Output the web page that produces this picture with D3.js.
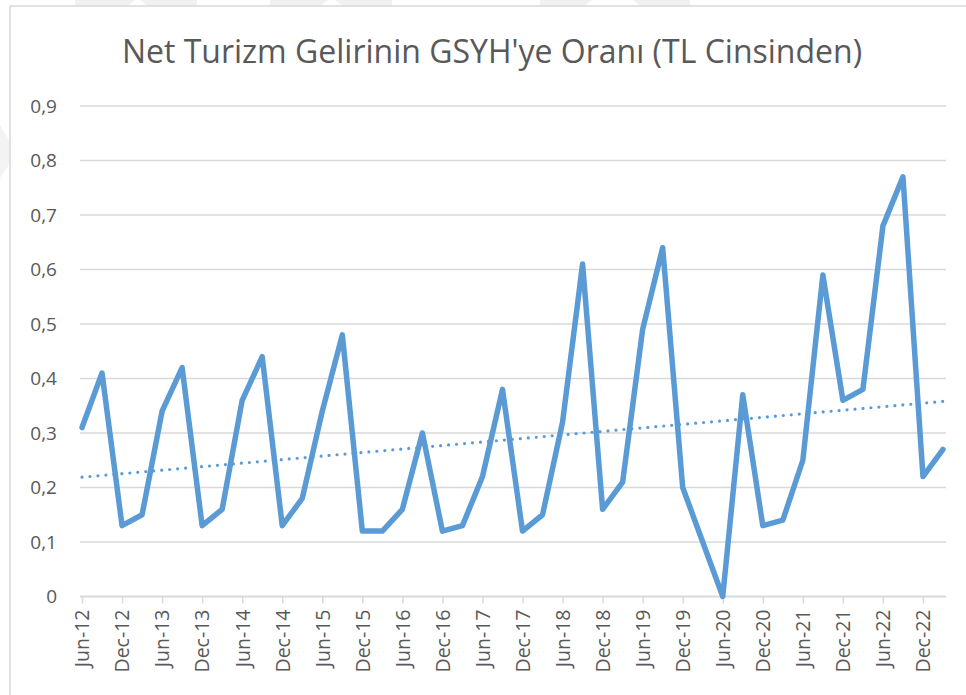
<!DOCTYPE html>
<html>
<head>
<meta charset="utf-8">
<script src="https://cdn.jsdelivr.net/npm/d3@7"></script>
<style>
  body { margin: 0; background: #fff; }
  text { font-family: "Open Sans", sans-serif; fill: #595959; }
</style>
</head>
<body>
<div id="chart"></div>
<script>
// chart data: quarterly ratio, Jun-12 .. Mar-23
var quarters = ["Jun-12", "Sep-12", "Dec-12", "Mar-13", "Jun-13", "Sep-13", "Dec-13", "Mar-14",
    "Jun-14", "Sep-14", "Dec-14", "Mar-15", "Jun-15", "Sep-15", "Dec-15", "Mar-16",
    "Jun-16", "Sep-16", "Dec-16", "Mar-17", "Jun-17", "Sep-17", "Dec-17", "Mar-18",
    "Jun-18", "Sep-18", "Dec-18", "Mar-19", "Jun-19", "Sep-19", "Dec-19", "Mar-20",
    "Jun-20", "Sep-20", "Dec-20", "Mar-21", "Jun-21", "Sep-21", "Dec-21", "Mar-22",
    "Jun-22", "Sep-22", "Dec-22", "Mar-23"];
var ratio = [0.31, 0.41, 0.13, 0.15, 0.34, 0.42, 0.13, 0.16,
    0.36, 0.44, 0.13, 0.18, 0.34, 0.48, 0.12, 0.12,
    0.16, 0.30, 0.12, 0.13, 0.22, 0.38, 0.12, 0.15,
    0.32, 0.61, 0.16, 0.21, 0.49, 0.64, 0.20, 0.10,
    0.00, 0.37, 0.13, 0.14, 0.25, 0.59, 0.36, 0.38,
    0.68, 0.77, 0.22, 0.27];
var xTickLabels = ["Jun-12", "Dec-12", "Jun-13", "Dec-13", "Jun-14", "Dec-14", "Jun-15", "Dec-15",
    "Jun-16", "Dec-16", "Jun-17", "Dec-17", "Jun-18", "Dec-18", "Jun-19", "Dec-19",
    "Jun-20", "Dec-20", "Jun-21", "Dec-21", "Jun-22", "Dec-22"];
var yTicks = [0, 0.1, 0.2, 0.3, 0.4, 0.5, 0.6, 0.7, 0.8, 0.9];
var title = "Net Turizm Gelirinin GSYH'ye Oranı (TL Cinsinden)";

var svgWidth = 966;
var svgHeight = 695;

var svg = d3.select("#chart").append("svg")
    .attr("width", svgWidth)
    .attr("height", svgHeight);

// faint watermark shapes at the top and left edge
var marks = [[75, 135], [140, 197], [270, 328], [335, 392], [540, 592], [633, 690]];
svg.selectAll(".wm")
    .data(marks)
    .enter()
    .append("polygon")
    .attr("fill", "#f1f1f1")
    .attr("points", function(d, i) {
        var s = i % 2 === 0 ? 8 : -8;
        return [[d[0], 0], [d[1], 0], [d[1] - (s < 0 ? 0 : s), 6], [d[0] - (s < 0 ? s : 0), 6]].join(" ");
    });
svg.append("polygon")
    .attr("fill", "#f3f3f3")
    .attr("points", "0,125 9,140 9,165 0,178");

// chart frame (only top and left edges are visible)
svg.append("rect")
    .attr("x", 10)
    .attr("y", 6)
    .attr("width", 1000)
    .attr("height", 800)
    .attr("fill", "#fff")
    .attr("stroke", "#d9d9d9")
    .attr("stroke-width", 1.5);

// scales
var x = d3.scalePoint()
    .domain(quarters)
    .range([82, 943]);
var y = d3.scaleLinear()
    .domain([0, 0.9])
    .range([596.5, 106]);

// title
var titleText = svg.append("text")
    .attr("x", 492)
    .attr("y", 63)
    .attr("text-anchor", "middle")
    .attr("font-size", "32px")
    .text(title);
var tw = titleText.node().getComputedTextLength();
if (tw > 744) {
    titleText.attr("textLength", 744).attr("lengthAdjust", "spacingAndGlyphs");
}

// gridlines
svg.append("g")
    .selectAll("line")
    .data(yTicks.filter(d => d > 0))
    .enter()
    .append("line")
    .attr("x1", 80)
    .attr("x2", 946)
    .attr("y1", d => y(d))
    .attr("y2", d => y(d))
    .attr("stroke", "#d9d9d9")
    .attr("stroke-width", 1.5);

// y axis labels
var yAxis = d3.axisLeft(y)
    .tickValues(yTicks)
    .tickSize(0)
    .tickPadding(0)
    .tickFormat(d => d3.format(".1~f")(d).replace(".", ","));
var yAxisG = svg.append("g")
    .attr("transform", "translate(57,0)")
    .call(yAxis);
yAxisG.select(".domain").remove();
yAxisG.selectAll("text")
    .attr("font-size", "19px")
    .attr("fill", "#595959")
    .style("font-family", "'Open Sans', sans-serif");

// x axis
var xAxis = d3.axisBottom(x)
    .tickValues(xTickLabels)
    .tickSize(7)
    .tickSizeOuter(0)
    .tickPadding(0);
var xAxisG = svg.append("g")
    .attr("transform", "translate(0,596.5)")
    .call(xAxis);
xAxisG.select(".domain")
    .attr("d", "M80,0H946")
    .attr("stroke", "#d9d9d9")
    .attr("stroke-width", 2);
xAxisG.selectAll(".tick line")
    .attr("stroke", "#d9d9d9")
    .attr("stroke-width", 1.5);
xAxisG.selectAll(".tick text")
    .attr("font-size", "19.5px")
    .attr("fill", "#595959")
    .style("font-family", "'Open Sans', sans-serif")
    .attr("text-anchor", "end")
    .attr("transform", "rotate(-90)")
    .attr("x", -13)
    .attr("y", 0)
    .attr("dy", "0.35em");

// data line
var line = d3.line()
    .x((d, i) => x(quarters[i]))
    .y(d => y(d))
    .curve(d3.curveLinear);

svg.append("path")
    .datum(ratio)
    .attr("d", line)
    .attr("fill", "none")
    .attr("stroke", "#5b9bd5")
    .attr("stroke-width", 5.5)
    .attr("stroke-linejoin", "round")
    .attr("stroke-linecap", "round");

// linear trend line (least squares over the series)
var n = ratio.length;
var mx = d3.mean(ratio, (d, i) => i);
var my = d3.mean(ratio);
var sxy = d3.sum(ratio, (d, i) => (i - mx) * (d - my));
var sxx = d3.sum(ratio, (d, i) => (i - mx) * (i - mx));
var slope = sxy / sxx;
var icpt = my - slope * mx;

svg.append("line")
    .attr("x1", x(quarters[0]))
    .attr("x2", x(quarters[n - 1]))
    .attr("y1", y(icpt))
    .attr("y2", y(icpt + slope * (n - 1)))
    .attr("stroke", "#5b9bd5")
    .attr("stroke-width", 3.2)
    .attr("stroke-linecap", "round")
    .attr("stroke-dasharray", "0,8");
</script>
</body>
</html>
